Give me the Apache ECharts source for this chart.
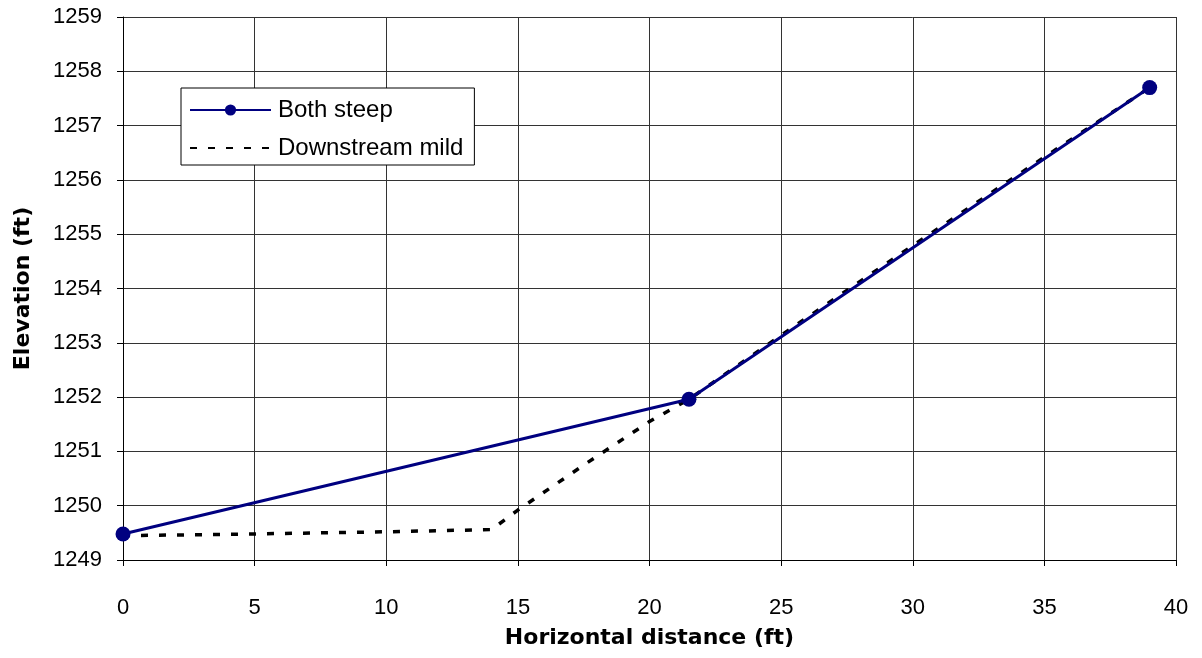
<!DOCTYPE html>
<html>
<head>
<meta charset="utf-8">
<script src="https://cdn.jsdelivr.net/npm/echarts@6/dist/echarts.min.js"></script>
<style>html,body{margin:0;padding:0;background:#fff;}#c{width:1202px;height:658px;}</style>
</head>
<body>
<div id="c"></div>
<script>
const bothSteepX = [0, 21.5, 39];
const bothSteepY = [1249.48, 1251.96, 1257.7];
const mildX = [0, 2, 5, 10, 14, 15, 17.6, 20, 21.5, 25, 30, 35, 39];
const mildY = [1249.45, 1249.46, 1249.48, 1249.52, 1249.56, 1249.92, 1250.78, 1251.55, 1251.96, 1253.14, 1254.79, 1256.42, 1257.7];
const seriesNames = ['Both steep', 'Downstream mild'];
const xTitle = 'Horizontal distance (ft)';
const yTitle = 'Elevation (ft)';

const zip = (xs, ys) => xs.map((x, i) => [x, ys[i]]);

const chart = echarts.init(document.getElementById('c'));
chart.setOption({
  animation: false,
  backgroundColor: '#fff',
  grid: { left: 123, right: 26, top: 17, bottom: 98, containLabel: false },
  legend: {
    orient: 'vertical',
    left: 181, top: 88,
    backgroundColor: '#fff',
    borderColor: '#000', borderWidth: 1, borderRadius: 0,
    padding: [10, 11, 5, 8],
    itemWidth: 81, itemHeight: 14, itemGap: 14,
    textStyle: { fontFamily: 'Liberation Sans, Arial', fontSize: 24, lineHeight: 24, color: '#000', padding: [0, 0, 0, 2] },
    data: [
      { name: seriesNames[0] },
      { name: seriesNames[1], itemStyle: { color: 'rgba(0,0,0,0)', borderWidth: 0, opacity: 0 } }
    ]
  },
  xAxis: {
    type: 'value', min: 0, max: 40, interval: 5,
    name: xTitle, nameLocation: 'middle', nameGap: 67,
    nameTextStyle: { fontFamily: 'DejaVu Sans', fontWeight: 'bold', fontSize: 22, color: '#000' },
    axisLine: { show: true, onZero: false, lineStyle: { color: '#000', width: 1 } },
    axisTick: { show: true, inside: false, length: 6, lineStyle: { color: '#000' } },
    axisLabel: { margin: 37, fontFamily: 'Liberation Sans, Arial', fontSize: 22, color: '#000' },
    splitLine: { show: true, lineStyle: { color: '#333', width: 1 } }
  },
  yAxis: {
    type: 'value', min: 1249, max: 1259, interval: 1,
    name: yTitle, nameLocation: 'middle', nameGap: 89, nameRotate: 90,
    nameTextStyle: { fontFamily: 'DejaVu Sans', fontWeight: 'bold', fontSize: 22, color: '#000' },
    axisLine: { show: true, onZero: false, lineStyle: { color: '#000', width: 1 } },
    axisTick: { show: true, inside: false, length: 6, lineStyle: { color: '#000' } },
    axisLabel: { margin: 21, fontFamily: 'Liberation Sans, Arial', fontSize: 22, color: '#000', formatter: v => String(v) },
    splitLine: { show: true, lineStyle: { color: '#333', width: 1 } }
  },
  series: [
    {
      name: seriesNames[1], type: 'line', data: zip(mildX, mildY),
      showSymbol: false, symbol: 'none', z: 2,
      lineStyle: { color: '#000', width: 3.5, type: [7, 11] },
      itemStyle: { color: '#000' }
    },
    {
      name: seriesNames[0], type: 'line', data: zip(bothSteepX, bothSteepY),
      symbol: 'circle', symbolSize: 15, z: 3,
      lineStyle: { color: '#000080', width: 3 },
      itemStyle: { color: '#000080' }
    }
  ]
});
</script>
</body>
</html>
